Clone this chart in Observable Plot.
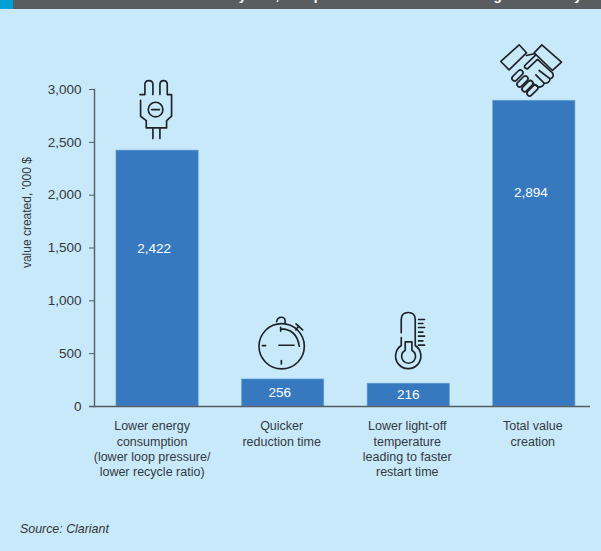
<!DOCTYPE html>
<html>
<head>
<meta charset="utf-8">
<script src="https://cdn.jsdelivr.net/npm/d3@7"></script>
<script src="https://cdn.jsdelivr.net/npm/@observablehq/plot@0.6"></script>
<style>
  html, body { margin: 0; padding: 0; background: #c8e9fa; }
  body { width: 601px; height: 551px; overflow: hidden; position: relative; }
  #band { position: absolute; left: 0; top: 0; width: 601px; height: 9px; background: #5a5d60; overflow: hidden; }
  #band .tab { position: absolute; left: 0; top: 0; width: 13px; height: 9px; background: #00a0d6; }
  #band .title { position: absolute; left: 76px; top: -12px; color: #fff; white-space: nowrap; letter-spacing: 0.6px;
    font: 700 13.5px/16px "Liberation Sans", sans-serif; }
  #chart { position: absolute; left: 0; top: 0; }
  #source { position: absolute; left: 20px; top: 521.5px; color: #333; font: italic 12.4px/15px "Liberation Sans", sans-serif; }
</style>
</head>
<body>
<div id="chart"></div>
<div id="band"><div class="tab"></div><div class="title">Total value created in cycles, compared with older unit using lead catalyst</div></div>
<div id="source">Source: Clariant</div>
<script>
const categories = [
  "Lower energy\nconsumption\n(lower loop pressure/\nlower recycle ratio)",
  "Quicker\nreduction time",
  "Lower light-off\ntemperature\nleading to faster\nrestart time",
  "Total value\ncreation"
];
const values = [2422, 256, 216, 2894];
const yTicks = [0, 500, 1000, 1500, 2000, 2500, 3000];
const barColor = "#3679be";
const axisColor = "#555c62";
const ink = "#333a40";

// Line icons, one per category, each drawn in its own viewBox
const svgIcon = (viewBox, body) => "data:image/svg+xml," + encodeURIComponent(
  `<svg xmlns="http://www.w3.org/2000/svg" viewBox="${viewBox}" fill="none" stroke="#1f2327" stroke-width="5" stroke-linecap="round" stroke-linejoin="round">${body}</svg>`);

const plug = svgIcon("110 55 110 190", `
  <path d="M118 105H133V75Q133 63 145 63T157 75V105M178 105V75Q178 63 189 63T200 75V105H213V170L198 183V205H137V183L120 170V122"/>
  <circle cx="165" cy="150" r="22"/><path d="M153 150H177M157 207V237M178 207V237"/>`);

const watch = svgIcon("50 40 150 175", `
  <circle cx="125" cy="137" r="68"/>
  <path d="M110 63Q112 50 125 50T135 68M168 70L188 88M176 76L168 88M122 80V92M122 85Q170 85 178 137M117 134H162M67 135H77M124 180V190"/>`);

const thermo = svgIcon("460 30 100 185", `
  <path d="M483 98V58Q483 37 504 37T525 58V136A38 38 0 1 1 483 136V112"/>
  <path d="M495 125H515V150A21 21 0 1 1 495 150ZM535 58H553M535 70H548M535 82H553M535 96H548M535 108H553M535 122H548M535 135H553"/>`);

const finger = (cx, cy) => `<rect x="-20" y="-8" width="40" height="16" rx="8" transform="translate(${cx} ${cy}) rotate(-45)"/>`;
const hands = svgIcon("50 20 200 170", `
  <path d="M60 78L115 28L137 52L85 103ZM183 28L242 80L215 105L160 52Z"/>
  <path d="M137 60L160 55M165 58L132 90Q128 98 140 100L170 72L215 112Q222 125 208 130L175 105M208 130Q205 145 190 143L165 118M190 143Q188 155 172 155L155 142"/>
  ${finger(110, 120)}${finger(125, 138)}${finger(140, 152)}${finger(155, 165)}`);

const icons = [
  {category: categories[0], src: plug, at: 2810, w: 36.7, h: 63.3, dx: -1.5},
  {category: categories[1], src: watch, at: 600, w: 50, h: 58.3, dx: -1},
  {category: categories[2], src: thermo, at: 620, w: 33.3, h: 61.7, dx: 2},
  {category: categories[3], src: hands, at: 3180, w: 66.7, h: 56.7, dx: -3}
];

const rows = categories.map((category, i) => ({category, value: values[i]}));
const fmt = d3.format(",");
const font = '"Liberation Sans", sans-serif';

// Placement of each value label inside its bar: height in axis units, shift in pixels
const valueLabels = [
  {category: categories[0], value: 2422, at: 1495, dx: -3.5},
  {category: categories[1], value: 256, at: 128, dx: -3.5},
  {category: categories[2], value: 216, at: 108, dx: -0.5},
  {category: categories[3], value: 2894, at: 2025, dx: -3.5}
];

const chart = Plot.plot({
  width: 601,
  height: 551,
  marginLeft: 94,
  marginRight: 5,
  marginTop: 89,
  marginBottom: 145,
  style: {background: "transparent", fontFamily: font, fontSize: "12.5px", color: ink},
  x: {domain: categories, range: [94.3, 596.6], round: false, paddingInner: 0.345, paddingOuter: 0.1725, axis: null},
  y: {domain: [0, 3000], label: null, axis: null},
  marks: [
    Plot.barY(rows, {x: "category", y: "value", fill: barColor, stroke: "#6aa3d8", strokeWidth: 0.6}),
    ...valueLabels.map(d => Plot.text([d], {x: "category", y: "at", text: v => fmt(v.value), dx: d.dx, fill: "#fff", fontSize: 13.5})),
    ...icons.map(d => Plot.image([d], {x: "category", y: "at", src: "src", width: d.w, height: d.h, dx: d.dx - 0.5})),
    Plot.ruleY([0], {stroke: axisColor, strokeWidth: 1.4, insetLeft: -5, insetRight: 6}),
    Plot.frame({anchor: "left", stroke: axisColor, strokeWidth: 1.4}),
    Plot.axisY({ticks: yTicks, tickFormat: fmt, tickSize: 5, stroke: axisColor, fill: ink, tickPadding: 8, label: null, fontSize: 13.5}),
    // First category label sits slightly left of its bar, the rest almost centred
    Plot.text(categories.slice(0, 1), {x: d => d, frameAnchor: "bottom", lineAnchor: "top", dy: 13, dx: -5.5, lineHeight: 1.22, fill: ink, fontSize: 12.5}),
    Plot.text(categories.slice(1), {x: d => d, frameAnchor: "bottom", lineAnchor: "top", dy: 13, dx: -1.5, lineHeight: 1.22, fill: ink, fontSize: 12.5}),
    Plot.text(["value created, '000 $"], {frameAnchor: "left", y: () => 1835, dx: -67, rotate: -90, fill: ink, fontSize: 12, textAnchor: "middle"})
  ]
});
document.getElementById("chart").append(chart);
</script>
</body>
</html>
